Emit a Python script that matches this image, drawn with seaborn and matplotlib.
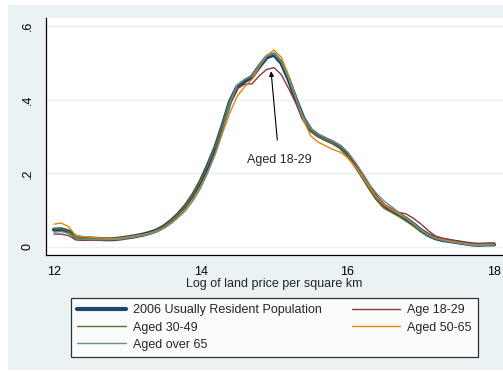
"""Kernel density of log land price by age group (Stata s2color look)."""

import matplotlib

matplotlib.use("Agg")
import matplotlib.pyplot as plt  # noqa: E402
import numpy as np  # noqa: E402
import pandas as pd  # noqa: E402
import seaborn as sns  # noqa: E402
from matplotlib.patches import Rectangle  # noqa: E402

log_price = [
    12.0, 12.1, 12.2, 12.3, 12.4, 12.5, 12.6, 12.7, 12.8, 12.9,
    13.0, 13.1, 13.2, 13.3, 13.4, 13.5, 13.6, 13.7, 13.8, 13.9,
    14.0, 14.1, 14.2, 14.3, 14.4, 14.5, 14.6, 14.7, 14.8, 14.9,
    15.0, 15.1, 15.2, 15.3, 15.4, 15.5, 15.6, 15.7, 15.8, 15.9,
    16.0, 16.1, 16.2, 16.3, 16.4, 16.5, 16.6, 16.7, 16.8, 16.9,
    17.0, 17.1, 17.2, 17.3, 17.4, 17.5, 17.6, 17.7, 17.8, 17.9,
    18.0,
]

dens_all = [
    .047, .048, .042, .027, .024, .023, .022, .021, .021, .023,
    .026, .029, .033, .038, .045, .056, .071, .090, .113, .142,
    .178, .222, .270, .330, .395, .435, .450, .462, .490, .515,
    .522, .500, .455, .400, .350, .318, .303, .293, .284, .272,
    .252, .225, .195, .163, .133, .112, .100, .089, .077, .062,
    .046, .033, .024, .019, .016, .013, .010, .007, .006, .007,
    .007,
]

dens_18_29 = [
    .035, .035, .031, .019, .018, .018, .018, .019, .020, .022,
    .025, .028, .032, .037, .044, .055, .071, .091, .115, .145,
    .181, .225, .273, .333, .398, .430, .442, .443, .465, .482,
    .487, .468, .430, .390, .350, .320, .305, .295, .285, .275,
    .258, .228, .195, .160, .130, .110, .100, .094, .090, .078,
    .063, .045, .030, .024, .020, .016, .012, .009, .008, .009,
    .010,
]

dens_30_49 = [
    .049, .050, .043, .027, .024, .023, .022, .021, .021, .023,
    .026, .029, .033, .038, .046, .057, .072, .092, .115, .145,
    .181, .225, .274, .335, .400, .440, .455, .466, .495, .520,
    .527, .505, .458, .402, .350, .316, .300, .290, .281, .269,
    .249, .221, .190, .157, .127, .105, .094, .083, .070, .057,
    .042, .030, .022, .018, .015, .012, .009, .006, .005, .006,
    .006,
]

dens_50_65 = [
    .062, .065, .055, .030, .028, .026, .025, .024, .023, .024,
    .027, .030, .033, .037, .043, .052, .066, .084, .105, .132,
    .165, .205, .252, .310, .365, .410, .435, .455, .490, .520,
    .535, .515, .465, .405, .345, .302, .285, .275, .265, .258,
    .243, .220, .193, .163, .135, .115, .102, .090, .078, .063,
    .047, .034, .025, .020, .016, .013, .010, .007, .006, .007,
    .007,
]

dens_over_65 = [
    .040, .042, .037, .023, .021, .020, .020, .020, .020, .021,
    .024, .027, .031, .035, .041, .051, .064, .081, .100, .127,
    .160, .203, .255, .318, .390, .440, .455, .465, .492, .518,
    .525, .503, .458, .403, .353, .322, .307, .296, .287, .276,
    .258, .232, .202, .170, .145, .125, .110, .094, .080, .064,
    .048, .034, .024, .018, .014, .011, .008, .004, .004, .005,
    .006,
]

series_names = [
    "2006 Usually Resident Population",
    "Aged 30-49",
    "Aged over 65",
    "Age 18-29",
    "Aged 50-65",
]
series_values = [dens_all, dens_30_49, dens_over_65, dens_18_29, dens_50_65]
series_colors = ["#1a476f", "#55752f", "#6e8e84", "#90353b", "#e8850a"]
series_widths = [3.0, 1.0, 1.0, 1.0, 1.0]

BG = "#eaf2f3"

df = pd.concat(
    [pd.DataFrame({"x": log_price, "y": vals, "group": name})
     for name, vals in zip(series_names, series_values)],
    ignore_index=True,
)

sns.set_style("white")
plt.rcParams["font.family"] = ["Liberation Sans", "DejaVu Sans"]

fig = plt.figure(figsize=(5.03, 3.72), dpi=100)
fig.patch.set_facecolor("white")
# Stata outer graph region
fig.patches.append(Rectangle((8 / 503, 1 - 370 / 372), 495 / 503, 365 / 372,
                             transform=fig.transFigure, facecolor=BG,
                             edgecolor="none", zorder=-10))

ax = fig.add_axes([46 / 503, 1 - 255 / 372, 457 / 503, 237 / 372])
ax.set_facecolor("white")

# thick total-population line first, age groups on top
draw_order = [0, 3, 1, 4, 2]
for i in draw_order:
    name = series_names[i]
    sns.lineplot(data=df[df["group"] == name], x="x", y="y", ax=ax,
                 color=series_colors[i], linewidth=series_widths[i],
                 label=name, legend=False, zorder=3 if i == 0 else 4)

ax.set_xlim(12 - 8 / 73.3, 18 + 9 / 73.3)
ax.set_ylim(-8 / 367.5, 0.6 + 8 / 367.5)
ax.set_xticks([12, 14, 16, 18])
ax.set_yticks([0, 0.2, 0.4, 0.6])
ax.set_yticklabels(["0", ".2", ".4", ".6"], rotation=90, va="center")
ax.yaxis.grid(True, color=BG, linewidth=1.0)
ax.set_axisbelow(True)
ax.tick_params(axis="both", direction="out", length=5, width=0.8,
               labelsize=9, colors="black", pad=3)
ax.tick_params(axis="y", pad=4)
for side in ["top", "right"]:
    ax.spines[side].set_visible(False)
for side in ["left", "bottom"]:
    ax.spines[side].set_color("black")
    ax.spines[side].set_linewidth(0.9)
ax.set_xlabel("Log of land price per square km", fontsize=9, labelpad=0)
ax.set_ylabel("")

ax.annotate("Aged 18-29", xy=(14.96, 0.477), xytext=(15.07, 0.235),
            ha="center", va="center", fontsize=9,
            arrowprops=dict(arrowstyle="-|>", color="black", lw=0.8,
                            mutation_scale=7, shrinkA=8, shrinkB=0))

handles = {h.get_label(): h for h in ax.get_lines()}
leg = fig.legend([handles[n] for n in series_names], series_names,
                 loc="lower left", ncol=2, mode="expand",
                 bbox_to_anchor=(71 / 503, 1 - 357 / 372, 407 / 503, 60 / 372),
                 fontsize=9, frameon=True, fancybox=False, handlelength=3.9,
                 handletextpad=0.55, borderpad=0.5, labelspacing=0.42,
                 columnspacing=1.5, borderaxespad=0)
leg.get_frame().set_edgecolor("black")
leg.get_frame().set_linewidth(0.9)
leg.get_frame().set_facecolor("white")

fig.savefig("out.png", dpi=100, facecolor=fig.get_facecolor())
plt.close(fig)
